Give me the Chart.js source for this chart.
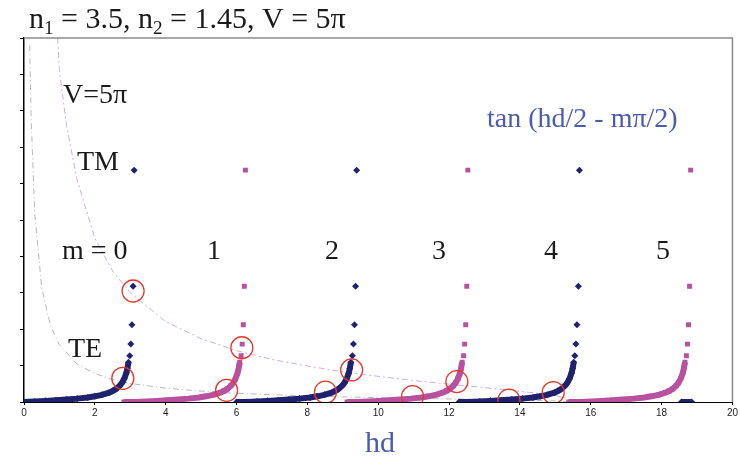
<!DOCTYPE html>
<html>
<head>
<meta charset="utf-8">
<script src="https://cdn.jsdelivr.net/npm/chart.js@4"></script>
<style>
  html, body { margin: 0; padding: 0; background: #fff; }
</style>
</head>
<body>
<canvas id="chart" width="740" height="456"></canvas>
<script>
// valeurs tan(hd/2 - mπ/2) lues le long d'une branche
const riseY = [0, 0.15, 0.31, 0.47, 0.68, 0.93, 1.26, 1.56, 1.96, 2.57, 3.0, 3.6, 4.45, 5.3, 6.4, 8.0, 9.3, 10.9];
const spikeY = [12.7, 15.9, 21.2, 31.8, 63.7];

// positions hd de chaque branche
const m0X = [0, 0.3, 0.6, 0.9, 1.2, 1.5, 1.8, 2.0, 2.2, 2.4, 2.5, 2.6, 2.7, 2.77, 2.83, 2.89, 2.92, 2.95];
const m0SpikeX = [2.985, 3.016, 3.047, 3.079, 3.11];
const m1X = [3.14, 3.44, 3.74, 4.04, 4.34, 4.64, 4.94, 5.14, 5.34, 5.54, 5.64, 5.74, 5.84, 5.91, 5.97, 6.03, 6.06, 6.09];
const m1SpikeX = [6.13, 6.16, 6.19, 6.22, 6.25];
const m2X = [6.28, 6.58, 6.88, 7.18, 7.48, 7.78, 8.08, 8.28, 8.48, 8.68, 8.78, 8.88, 8.98, 9.05, 9.11, 9.17, 9.2, 9.23];
const m2SpikeX = [9.27, 9.3, 9.33, 9.36, 9.39];
const m3X = [9.42, 9.72, 10.02, 10.32, 10.62, 10.92, 11.22, 11.42, 11.62, 11.82, 11.92, 12.02, 12.12, 12.19, 12.25, 12.31, 12.34, 12.37];
const m3SpikeX = [12.41, 12.44, 12.47, 12.5, 12.53];
const m4X = [12.57, 12.87, 13.17, 13.47, 13.77, 14.07, 14.37, 14.57, 14.77, 14.97, 15.07, 15.17, 15.27, 15.34, 15.4, 15.46, 15.49, 15.52];
const m4SpikeX = [15.55, 15.58, 15.61, 15.65, 15.68];
const m5X = [15.71, 16.01, 16.31, 16.61, 16.91, 17.21, 17.51, 17.71, 17.91, 18.11, 18.21, 18.31, 18.41, 18.48, 18.54, 18.6, 18.63, 18.66];
const m5SpikeX = [18.7, 18.73, 18.76, 18.79, 18.82];

// début des branches (valeurs ~0 avant mπ)
const leadX = [null, 2.82, 6.0, 9.12, 12.28, 15.38];
const tailNavyX = [18.56, 18.85];

// courbes TE / TM (pointillés)
const teX = [0.16, 0.2, 0.3, 0.5, 0.75, 1, 1.5, 2, 2.5, 3, 4, 5, 6, 7, 8, 9, 10, 11, 12, 13, 14, 15, 15.7];
const teY = [98, 78.5, 52, 31.4, 20.9, 15.7, 10.4, 7.8, 6.2, 5.1, 3.8, 3.0, 2.4, 2.0, 1.7, 1.4, 1.2, 1.0, 0.85, 0.68, 0.51, 0.31, 0];
const tmX = [0.95, 1, 1.2, 1.5, 2, 2.5, 3, 4, 5, 6, 7, 8, 9, 10, 11, 12, 13, 14, 15, 15.7];
const tmY = [100, 91, 76, 61, 45, 36, 30, 22.1, 17.4, 14.1, 11.7, 9.9, 8.3, 7.05, 5.9, 4.9, 3.95, 2.95, 1.8, 0];

// intersections (cercles rouges)
const teCircleX = [2.79, 5.72, 8.51, 10.97, 13.69];
const teCircleY = [6.5, 3.2, 2.7, 1.5, 0.5];
const tmCircleX = [3.08, 6.15, 9.25, 12.22, 14.94];
const tmCircleY = [30.5, 14.9, 8.8, 5.6, 2.6];

const navy = '#20226e';
const magenta = '#b8519f';
const red = '#e5392c';

function zip(xs, ys) {
  return xs.map((x, i) => ({ x: x, y: ys[i] }));
}

const branchX = [m0X, m1X, m2X, m3X, m4X, m5X];
const spikeX = [m0SpikeX, m1SpikeX, m2SpikeX, m3SpikeX, m4SpikeX, m5SpikeX];

const datasets = [];

// cercles au-dessus
datasets.push({
  data: zip(teCircleX, teCircleY).concat(zip(tmCircleX, tmCircleY)),
  showLine: false,
  pointStyle: 'circle',
  pointRadius: 11,
  pointBorderWidth: 1.3,
  pointBorderColor: red,
  pointBackgroundColor: 'rgba(0,0,0,0)'
});

branchX.forEach((xs, m) => {
  const color = m % 2 === 0 ? navy : magenta;
  const style = m % 2 === 0 ? 'rectRot' : 'rect';
  let pts = zip(xs, riseY);
  if (leadX[m] !== null) pts = [{ x: leadX[m], y: 0 }].concat(pts);
  datasets.push({
    data: pts,
    showLine: true,
    borderColor: color,
    borderWidth: 6,
    borderJoinStyle: 'round',
    pointStyle: style,
    pointRadius: 3.5,
    pointBorderWidth: 0,
    pointBackgroundColor: color
  });
  datasets.push({
    data: zip(spikeX[m], spikeY),
    showLine: false,
    pointStyle: style,
    pointRadius: 3.5,
    pointBorderWidth: 0,
    pointBackgroundColor: color
  });
});

datasets.push({
  data: zip(tailNavyX, [0, 0]),
  showLine: true,
  borderColor: navy,
  borderWidth: 6,
  pointStyle: 'rectRot',
  pointRadius: 3.5,
  pointBorderWidth: 0,
  pointBackgroundColor: navy
});

datasets.push({
  data: zip(tmX, tmY),
  showLine: true,
  borderColor: '#cfaedb',
  borderWidth: 1,
  borderDash: [6, 3, 2, 3],
  pointRadius: 0
});
datasets.push({
  data: zip(teX, teY),
  showLine: true,
  borderColor: '#b8b8b8',
  borderWidth: 1,
  borderDash: [6, 3, 1, 3],
  pointRadius: 0
});

function drawRich(ctx, parts, x, y, size) {
  parts.forEach(p => {
    const s = p.sub ? size * 0.64 : size;
    ctx.font = s + 'px "Liberation Serif", "Times New Roman", serif';
    ctx.fillText(p.t, x, p.sub ? y + size * 0.2 : y);
    x += ctx.measureText(p.t).width;
  });
}

const annotations = {
  id: 'annotations',
  afterDraw(chart) {
    const ctx = chart.ctx;
    const a = chart.chartArea;
    ctx.save();
    // cadre haut / droite
    ctx.strokeStyle = '#8a8a8a';
    ctx.lineWidth = 1.5;
    ctx.beginPath();
    ctx.moveTo(a.left, a.top);
    ctx.lineTo(a.right, a.top);
    ctx.lineTo(a.right, a.bottom);
    ctx.stroke();

    ctx.fillStyle = '#1a1a1a';
    ctx.textBaseline = 'alphabetic';
    ctx.textAlign = 'left';
    drawRich(ctx, [
      { t: 'n' }, { t: '1', sub: true }, { t: ' = 3.5, n' }, { t: '2', sub: true }, { t: ' = 1.45, V = 5π' }
    ], 29, 28, 30);

    ctx.font = '28px "Liberation Serif", serif';
    ctx.fillText('V=5π', 63, 103);
    ctx.fillText('TM', 77, 170);
    ctx.fillText('TE', 68, 357);
    ctx.fillText('m = 0', 62, 259);
    ctx.fillText('1', 207, 259);
    ctx.fillText('2', 325, 259);
    ctx.fillText('3', 432, 259);
    ctx.fillText('4', 544, 259);
    ctx.fillText('5', 656, 259);

    ctx.fillStyle = '#4a5cb0';
    ctx.fillText('tan (hd/2 - mπ/2)', 487, 127);
    ctx.font = '30px "Liberation Serif", serif';
    ctx.fillText('hd', 365, 452);
    ctx.restore();
  }
};

new Chart(document.getElementById('chart'), {
  type: 'scatter',
  data: { datasets: datasets },
  options: {
    responsive: false,
    animation: false,
    layout: { autoPadding: false, padding: { left: 20, top: 38, right: 6, bottom: 0 } },
    plugins: { legend: { display: false }, tooltip: { enabled: false } },
    scales: {
      x: {
        type: 'linear',
        min: 0,
        max: 20,
        ticks: {
          stepSize: 2,
          color: '#222',
          padding: 2,
          maxRotation: 0,
          font: { family: '"Liberation Sans", Arial, sans-serif', size: 10 }
        },
        grid: { drawOnChartArea: false, tickLength: 3, color: '#000' },
        border: { color: '#000', width: 1 },
        afterFit: s => { s.height = 54; }
      },
      y: {
        min: 0,
        max: 100,
        ticks: { display: false, stepSize: 10 },
        grid: { drawOnChartArea: false, tickLength: 4, color: '#000' },
        border: { color: '#000', width: 1.5 },
        afterFit: s => { s.width = 4; }
      }
    }
  },
  plugins: [annotations]
});
</script>
</body>
</html>
